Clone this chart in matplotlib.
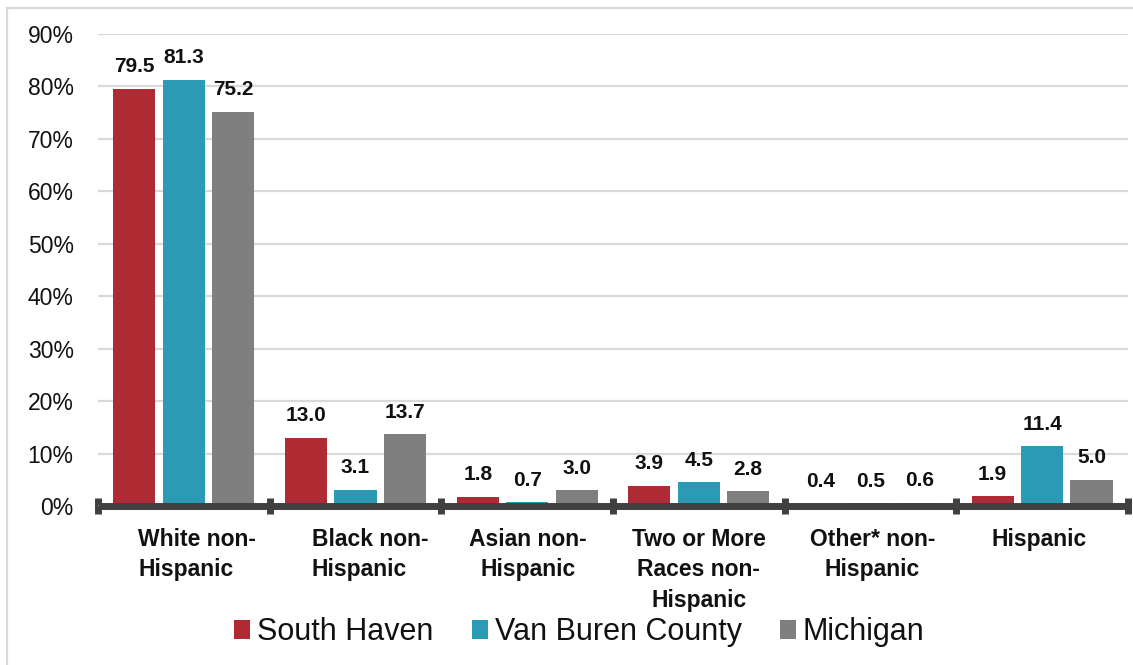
import matplotlib
matplotlib.use("Agg")
import matplotlib.pyplot as plt
import numpy as np
from matplotlib.lines import Line2D
from matplotlib.patches import Rectangle

categories = ["White non-\nHispanic", "Black non-\nHispanic", "Asian non-\nHispanic",
              "Two or More\nRaces non-\nHispanic", "Other* non-\nHispanic", "Hispanic"]
series_names = ["South Haven", "Van Buren County", "Michigan"]
south_haven = [79.5, 13.0, 1.8, 3.9, 0.4, 1.9]
van_buren = [81.3, 3.1, 0.7, 4.5, 0.5, 11.4]
michigan = [75.2, 13.7, 3.0, 2.8, 0.6, 5.0]
colors = ["#AE2B33", "#2B9BB5", "#7F7F7F"]
yticks = [0, 10, 20, 30, 40, 50, 60, 70, 80, 90]

# per-label line alignment and horizontal nudge (points) for the category labels
label_align = ["left", "left", "center", "center", "center", "center"]
label_dx = [9.5, 10.5, 0.5, 0.0, 1.5, -2.0]

fig = plt.figure(figsize=(11.33, 6.65), dpi=100)
fig.patches.append(Rectangle((0.0065, -0.01), 1.2, 0.998, transform=fig.transFigure,
                             fill=False, edgecolor="#D9D9D9", linewidth=1.6))
ax = fig.add_axes([0.0865, 0.239, 0.909, 0.71])

x = np.arange(len(categories))
width = 0.245
offset = 0.288
for i, (vals, name) in enumerate(zip([south_haven, van_buren, michigan], series_names)):
    pos = x + (i - 1) * offset
    ax.bar(pos, vals, width, color=colors[i], label=name, zorder=3)
    for px, v in zip(pos, vals):
        ax.text(px, v + 2.4, f"{v:.1f}", ha="center", va="bottom", fontsize=15,
                fontweight="bold", color="#111111", family="Liberation Sans")

ax.set_xlim(-0.5, len(categories) - 0.5)
ax.set_ylim(0, 90)
ax.set_yticks(yticks)
ax.set_yticklabels([f"{t}%" for t in yticks], fontsize=16.5, family="Liberation Sans",
                   color="#111111")
ax.tick_params(axis="y", length=0, pad=17.5)
ax.yaxis.grid(True, color="#D9D9D9", linewidth=1.6, zorder=0)
ax.set_axisbelow(True)
for s in ["top", "right", "left", "bottom"]:
    ax.spines[s].set_visible(False)

# thick category axis with boundary ticks
ax.add_line(Line2D([-0.5, len(categories) - 0.5], [0, 0], color="#404040", linewidth=5,
                   zorder=4, clip_on=False, solid_capstyle="butt"))
ax.set_xticks(np.arange(len(categories) + 1) - 0.5, minor=True)
ax.tick_params(axis="x", which="minor", length=11, width=5, color="#404040",
               direction="inout")
ax.set_xticks(x)
ax.set_xticklabels([])
ax.tick_params(axis="x", which="major", length=0)

for xi, (lab, al, dx) in enumerate(zip(categories, label_align, label_dx)):
    ax.annotate(lab, xy=(xi, 0), xycoords=("data", "axes fraction"),
                xytext=(dx, -16), textcoords="offset points",
                ha="center", va="top", multialignment=al, fontsize=16.5,
                fontweight="bold", family="Liberation Sans", linespacing=1.40,
                color="#111111", annotation_clip=False)

leg = fig.legend(loc="center", bbox_to_anchor=(0.5115, 0.049), ncol=3, frameon=False,
                 prop={"family": "Liberation Sans", "size": 22},
                 handlelength=0.52, handleheight=0.6, handletextpad=0.23, columnspacing=1.25)
for t in leg.get_texts():
    t.set_color("#111111")

fig.savefig("out.png", dpi=100)
